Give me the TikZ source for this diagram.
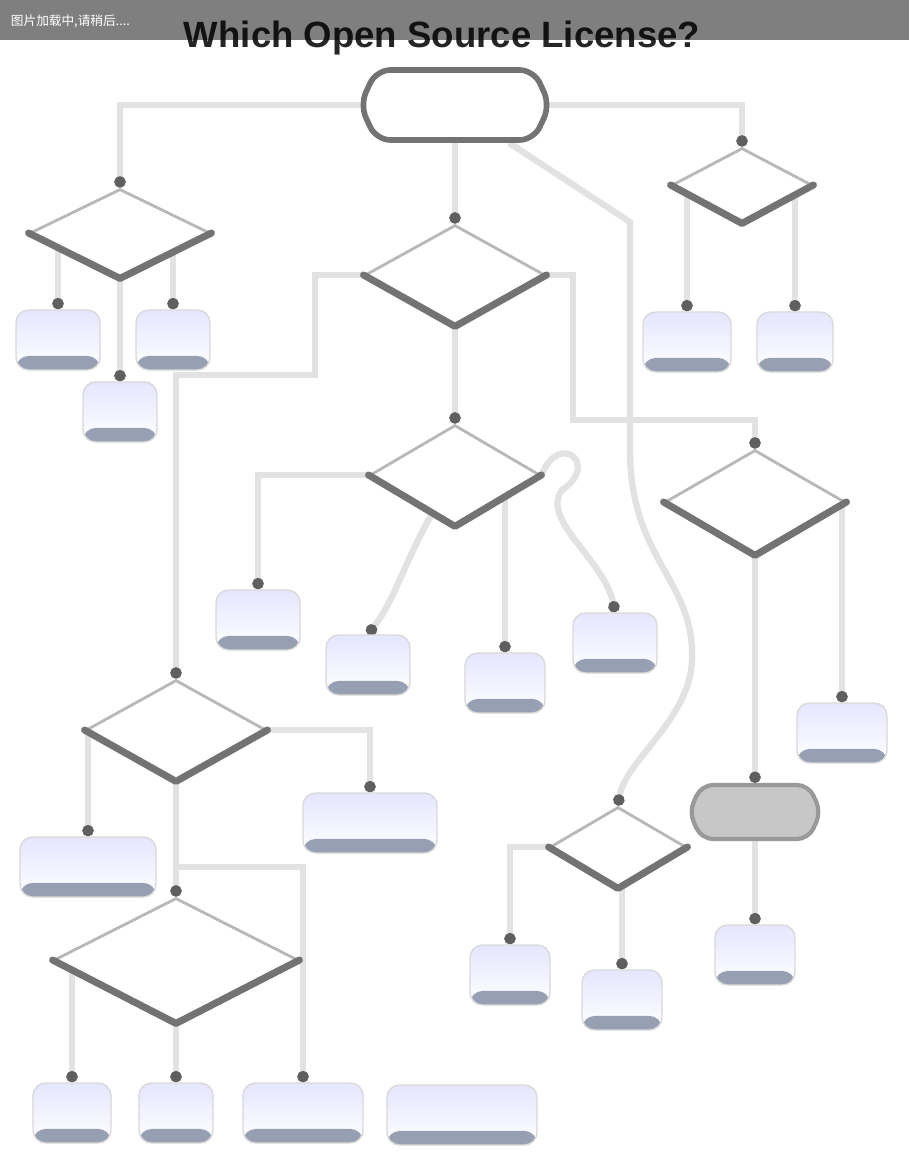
\documentclass[tikz,border=0pt]{standalone}
\usepackage{fontspec}
\setmainfont{Liberation Sans}
\newfontfamily\cjk{Noto Sans CJK SC}
\usetikzlibrary{arrows.meta,shapes.geometric,shapes.symbols,backgrounds}
\definecolor{slate}{RGB}{150,160,178}
\definecolor{linegray}{RGB}{226,226,226}
\definecolor{dotgray}{RGB}{95,95,95}

\begin{document}
\begin{tikzpicture}[x=0.025cm,y=-0.025cm,
  decision/.style={diamond,draw=black!28,line width=2pt,fill=white,inner sep=0pt},
  result/.style={rectangle,rounded corners=9pt,draw=black!15,line width=1pt,
                 top color=blue!10,bottom color=white,minimum height=1.5cm,inner sep=0pt,
                 path picture={\fill[slate] (path picture bounding box.south west)
                   rectangle ([yshift=10pt]path picture bounding box.south east);}},
  startbox/.style={signal,signal to=east and west,signal pointer angle=130,
                   rounded corners=10pt,draw=black!55,line width=4pt,fill=white,inner sep=0pt},
  conn/.style={draw=linegray,line width=4.5pt,-{Circle[length=8pt,color=dotgray]}},
  rim/.style={draw=black!55,line width=5pt,line cap=round,line join=round}]
\useasboundingbox (0,0) rectangle (909,1170);

% start and questions
\node[startbox,minimum width=4.75cm,minimum height=1.75cm] (start) at (455,105) {};
\node[decision,minimum width=4.5cm,minimum height=2.2cm] (qa) at (120,233) {};
\node[decision,minimum width=3.5cm,minimum height=1.85cm] (qb) at (742,185) {};
\node[decision,minimum width=4.5cm,minimum height=2.5cm] (qc) at (455,275) {};
\node[decision,minimum width=4.25cm,minimum height=2.5cm] (qd) at (455,475) {};
\node[decision,minimum width=4.5cm,minimum height=2.6cm] (qe) at (755,502) {};
\node[decision,minimum width=4.5cm,minimum height=2.5cm] (qf) at (176,730) {};
\node[decision,minimum width=6.1cm,minimum height=3.1cm] (qg) at (176,960) {};
\node[decision,minimum width=3.4cm,minimum height=2cm] (qh) at (618,847) {};
\node[startbox,fill=black!22,draw=black!40,line width=3pt,rounded corners=8pt,
      minimum width=3.3cm,minimum height=1.35cm] (gb) at (755,812) {};
\foreach \q in {qa,qb,qc,qd,qe,qf,qg,qh}
  \draw[rim] (\q.west) -- (\q.south) -- (\q.east);

% answers
\foreach \n/\x/\y/\w in {r1/58/340/2.1, r2/173/340/1.85, r3/120/412/1.85,
    r4/687/342/2.2, r5/795/342/1.9, r6/258/620/2.1, r7/368/665/2.1,
    r8/505/683/2, r9/615/643/2.1, r10/842/733/2.25, r11/88/867/3.4,
    r12/370/823/3.35, r13/510/975/2, r14/622/1000/2, r15/755/955/2,
    r16/72/1113/1.95, r17/176/1113/1.85, r18/303/1113/3, r19/462/1115/3.75}
  \node[result,minimum width=\w cm] (\n) at (\x,\y) {};

% bends
\coordinate (kl) at (315,375);
\coordinate (kr) at (573,420);
\coordinate (kb) at (303,867);
\coordinate (ks) at (630,222);
\coordinate (kt) at (630,450);
\coordinate (ku) at (692,660);
\coordinate (curl) at (562,490);

\begin{scope}[on background layer]
\draw[conn] (start.center) -| (qa.north);
\draw[conn] (start.center) -| (qb.north);
\draw[conn] (start) -- (qc.north);
\draw[conn] (start.-35) -- (ks) -- (kt) .. controls (630,560) and (695,580) .. (ku)
  .. controls (690,720) and (625,760) .. (qh.north);
\draw[conn] (qa) -| (r1.north);
\draw[conn] (qa) -- (r3.north);
\draw[conn] (qa) -| (r2.north);
\draw[conn] (qb) -| (r4.north);
\draw[conn] (qb) -| (r5.north);
\draw[conn] (qc) -| (kl) -| (qf.north);
\draw[conn] (qc) -| (kr) -| (qe.north);
\draw[conn] (qc) -- (qd.north);
\draw[conn] (qd) -| (r6.north);
\draw[conn] (qd) .. controls (405,560) and (395,600) .. (r7.north);
\draw[conn] (qd) -| (r8.north);
\draw[conn] (qd.east) .. controls (560,430) and (600,465) .. (curl)
  .. controls (540,520) and (605,560) .. (r9.north);
\draw[conn] (qe) -- (gb.north);
\draw[conn] (qe) -| (r10.north);
\draw[conn] (gb) -- (r15.north);
\draw[conn] (qh) -| (r13.north);
\draw[conn] (qh) -| (r14.north);
\draw[conn] (qf) -- (qg.north);
\draw[conn] (qf) |- (kb) -- (r18.north);
\draw[conn] (qf.west) -| (r11.north);
\draw[conn] (qf) -| (r12.north);
\draw[conn] (qg) -| (r16.north);
\draw[conn] (qg) -- (r17.north);
\end{scope}

% title and loading bar
\node[font=\bfseries\fontsize{26}{30}\selectfont,text=black!85] (title) at (442,38)
  {Which Open Source License?};
\fill[black,fill opacity=0.5] (0,0) rectangle (909,40);
\node[anchor=west,text=white,font=\cjk\fontsize{9}{11}\selectfont] (banner) at (6,21)
  {图片加载中,请稍后....};
\end{tikzpicture}
\end{document}
